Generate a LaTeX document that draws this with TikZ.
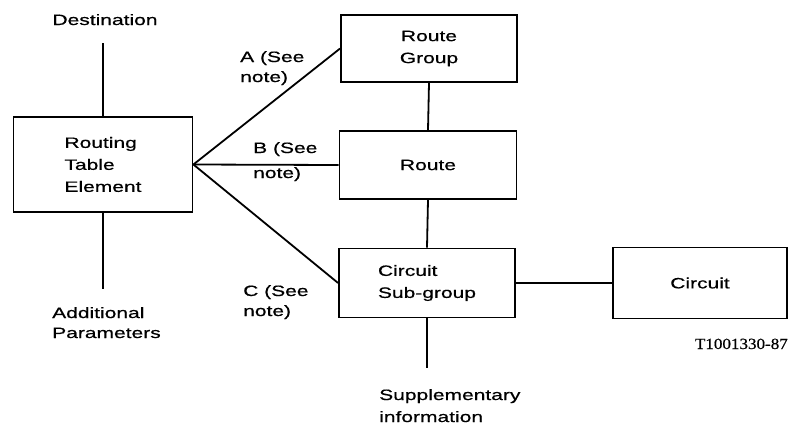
\documentclass[tikz,border=0pt]{standalone}
\usepackage{fontspec}
\setmainfont{Liberation Sans}[FakeStretch=1.4,FakeBold=0.6]
\newfontfamily\codefont{Liberation Serif}[FakeStretch=1.1,FakeBold=0.6]
\usetikzlibrary{positioning}

\tikzset{
  box/.style={draw, line width=1.8pt, align=left, inner sep=0pt,
    font=\fontsize{15}{22}\selectfont},
  lbl/.style={align=left, inner sep=0pt, anchor=base west,
    font=\fontsize{15}{20}\selectfont},
  link/.style={line width=1.8pt},
}

\begin{document}
\begin{tikzpicture}[x=1pt,y=-1pt]
\useasboundingbox (0,0) rectangle (790,426);
% boxes
\node[box, minimum width=179pt, minimum height=95pt] (rte) at (103,164.5) {Routing\\Table\\Element};
\node[box, minimum width=176pt, minimum height=67pt, align=center] (rg) at (429,48.5) {Route\\Group};
\node[box, minimum width=177pt, minimum height=68pt] (route) at (428,165) {Route};
\node[box, minimum width=176pt, minimum height=69pt] (csg) at (427,283) {Circuit\\Sub-group};
\node[box, minimum width=174pt, minimum height=71pt] (circ) at (700,283) {Circuit};
% free ends
\coordinate (destend) at (103,43);
\coordinate (addend) at (103,289);
\coordinate (suppend) at (427,368);
% texts (base = last line)
\node[lbl, anchor=base] (dest) at (105,25) {Destination};
\node[lbl] (add) at (52,338) {Additional\\Parameters};
\node[lbl, font=\fontsize{15}{22}\selectfont] (supp) at (379,422) {Supplementary\\information};
\node[lbl] (notea) at (240,82) {A (See\\note)};
\node[lbl, font=\fontsize{15}{25}\selectfont] (noteb) at (253,178) {B (See\\note)};
\node[lbl] (notec) at (243,316) {C (See\\note)};
\node[inner sep=0pt, anchor=base east, font=\codefont\fontsize{15.5}{18}\selectfont] (code) at (788,349) {T1001330-87};
% connectors
\draw[link] (destend) -- (rte.north);
\draw[link] (rte.south) -- (addend);
\draw[link] (rte.east) -- (rg.west);
\draw[link] (rte.east) -- (route.west);
\draw[link] (rte.east) -- (csg.west);
\draw[link] (rg.south) -- (route.north);
\draw[link] (route.south) -- (csg.north);
\draw[link] (csg.east) -- (circ.west);
\draw[link] (csg.south) -- (suppend);
\end{tikzpicture}
\end{document}
